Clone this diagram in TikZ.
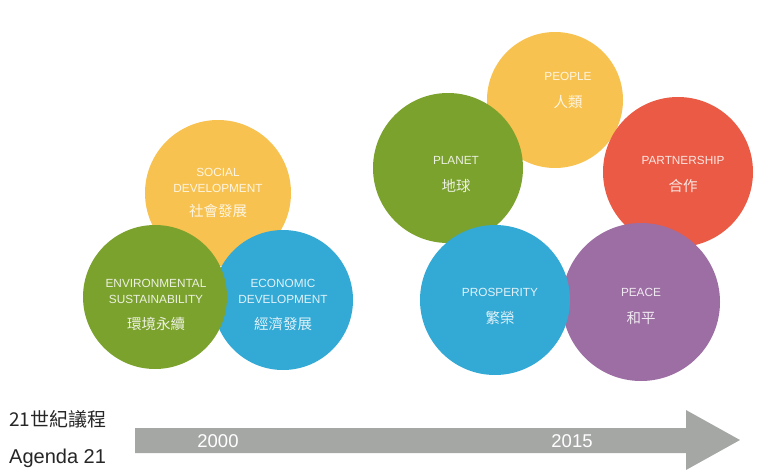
\documentclass[tikz,border=0pt]{standalone}
\usepackage{fontspec}
\setmainfont{Liberation Sans}
\newfontfamily\cjk{Noto Sans CJK TC}
\definecolor{cyellow}{HTML}{F7C24F}
\definecolor{cgreen}{HTML}{7CA22E}
\definecolor{cblue}{HTML}{33A9D5}
\definecolor{cred}{HTML}{EA5A44}
\definecolor{cpurple}{HTML}{9C6EA3}
\definecolor{cgray}{HTML}{A5A7A5}
\begin{document}
\begin{tikzpicture}[x=1pt,y=-1pt,
  disc/.style={circle,inner sep=0pt,minimum size=#1},
  en/.style={font=\fontsize{11.8}{12}\selectfont,text=white,text opacity=0.85,inner sep=0pt},
  zh/.style={font=\cjk\fontsize{14.5}{15}\selectfont,text=white,text opacity=0.85,inner sep=0pt},
  year/.style={font=\fontsize{18.5}{19}\selectfont,text=white,inner sep=0pt},
  lab/.style={font=\fontsize{20}{21}\selectfont,text=black!85,inner sep=0pt,anchor=west}]
\useasboundingbox (0,0) rectangle (760,471);
% left group
\node[disc=146pt,fill=cyellow] (social) at (218,193) {};
\node[disc=140pt,fill=cblue] (econ) at (283,300) {};
\node[disc=144pt,fill=cgreen] (env) at (155,297) {};
% right group
\node[disc=136pt,fill=cyellow] (people) at (555,100) {};
\node[disc=150pt,fill=cgreen] (planet) at (448,168) {};
\node[disc=150pt,fill=cred] (partner) at (678,172) {};
\node[disc=158pt,fill=cpurple] (peace) at (641,302) {};
\node[disc=150pt,fill=cblue] (prosper) at (495,300) {};
% texts left
\node[en] (t1a) at (218,172) {SOCIAL};
\node[en] (t1b) at (218,188) {DEVELOPMENT};
\node[zh] (t1c) at (218,211) {社會發展};
\node[en] (t2a) at (156,283) {ENVIRONMENTAL};
\node[en] (t2b) at (156,299) {SUSTAINABILITY};
\node[zh] (t2c) at (156,324) {環境永續};
\node[en] (t3a) at (283,283) {ECONOMIC};
\node[en] (t3b) at (283,299) {DEVELOPMENT};
\node[zh] (t3c) at (283,324) {經濟發展};
% texts right
\node[en] (p1a) at (568,76) {PEOPLE};
\node[zh] (p1b) at (568,102) {人類};
\node[en] (p2a) at (456,160) {PLANET};
\node[zh] (p2b) at (456,186) {地球};
\node[en] (p3a) at (683,160) {PARTNERSHIP};
\node[zh] (p3b) at (683,186) {合作};
\node[en] (p4a) at (500,292) {PROSPERITY};
\node[zh] (p4b) at (500,318) {繁榮};
\node[en] (p5a) at (641,292) {PEACE};
\node[zh] (p5b) at (641,318) {和平};
% timeline arrow
\fill[cgray] (135,428) -- (686,428) -- (686,410) -- (740,440) -- (686,470) -- (686,453) -- (135,453) -- cycle;
\node[year] (y1) at (218,441) {2000};
\node[year] (y2) at (572,441) {2015};
\node[lab,font=\cjk\fontsize{19}{20}\selectfont] (l1) at (9,419) {21世紀議程};
\node[lab] (l2) at (9,458) {Agenda 21};
\end{tikzpicture}
\end{document}
